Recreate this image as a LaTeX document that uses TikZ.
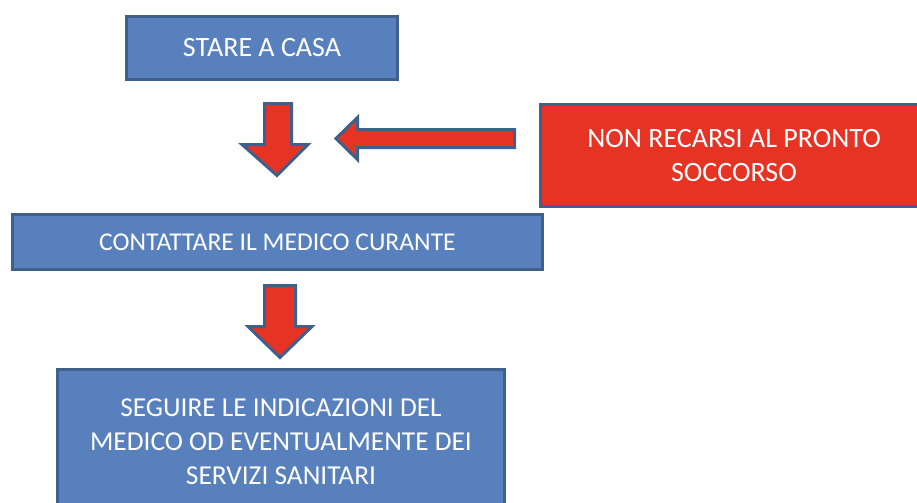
\documentclass[tikz,border=0pt]{standalone}
\usepackage{fontspec}
\setmainfont{Carlito}
\definecolor{boxblue}{RGB}{88,128,189}
\definecolor{edgeblue}{RGB}{64,96,140}
\definecolor{alertred}{RGB}{230,51,35}
\begin{document}
\begin{tikzpicture}[x=0.75pt,y=-0.75pt,
    box/.style={draw=edgeblue,line width=2.25pt,fill=boxblue,text=white,
      align=center,inner sep=0pt,font=\fontsize{19.2}{25}\selectfont},
    alertbox/.style={box,fill=alertred,font=\fontsize{21}{25.5}\selectfont},
    blockarrow/.style={draw=edgeblue,line width=2.25pt,fill=alertred,line join=miter}]
      \useasboundingbox (0,0) rectangle (917,503);
      \draw
        (262,48) node[box,font=\fontsize{21}{25}\selectfont,minimum width=203.25pt,minimum height=47.25pt] (casa){STARE A CASA}
        (734,155.5) node[alertbox,minimum width=290.25pt,minimum height=76.5pt] (pronto){NON RECARSI AL PRONTO\\SOCCORSO}
        (277.5,242) node[box,minimum width=397.5pt,minimum height=41.25pt] (medico){CONTATTARE IL MEDICO CURANTE}
        (281,442) node[box,font=\fontsize{20.5}{25.5}\selectfont,minimum width=335.25pt,minimum height=108.75pt] (servizi){SEGUIRE LE INDICAZIONI DEL\\MEDICO OD EVENTUALMENTE DEI\\SERVIZI SANITARI};
      % casa -> medico
      \draw[blockarrow] (264.5,103.5) -- (291.5,103.5) -- (291.5,144.5) -- (308,144.5)
        -- (277,175.5) -- (242,144.5) -- (264.5,144.5) -- cycle;
      % pronto -> freccia
      \draw[blockarrow] (514.5,129.5) -- (357.5,129.5) -- (357.5,117.5) -- (336,138.5)
        -- (357.5,159.5) -- (357.5,147.5) -- (514.5,147.5) -- cycle;
      % medico -> servizi
      \draw[blockarrow] (264.5,285.5) -- (295.5,285.5) -- (295.5,326.5) -- (312,326.5)
        -- (280,357.5) -- (248,326.5) -- (264.5,326.5) -- cycle;
    \end{tikzpicture}
\end{document}
